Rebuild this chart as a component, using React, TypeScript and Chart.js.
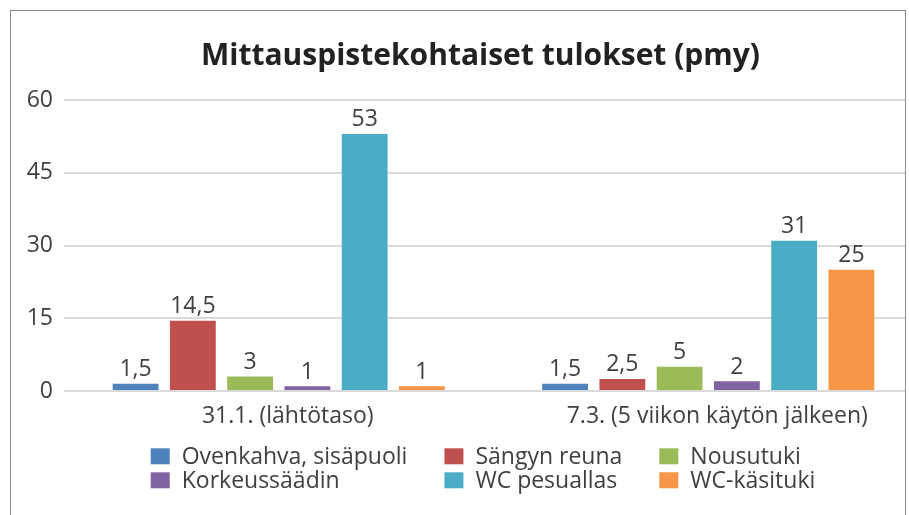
import React, { useEffect, useRef } from "react";
import { Chart, registerables } from "chart.js";

Chart.register(...registerables);

const chartTitle = "Mittauspistekohtaiset tulokset (pmy)";
const categories = ["31.1. (lähtötaso)", "7.3. (5 viikon käytön jälkeen)"];
const seriesNames = [
  "Ovenkahva, sisäpuoli",
  "Sängyn reuna",
  "Nousutuki",
  "Korkeussäädin",
  "WC pesuallas",
  "WC-käsituki",
];
const ovenkahva = [1.5, 1.5];
const sangynReuna = [14.5, 2.5];
const nousutuki = [3, 5];
const korkeussaadin = [1, 2];
const wcPesuallas = [53, 31];
const wcKasituki = [1, 25];
const seriesValues = [ovenkahva, sangynReuna, nousutuki, korkeussaadin, wcPesuallas, wcKasituki];
const yMin = 0;
const yMax = 60;
const yStep = 15;
const colors = ["#4f81bd", "#c0504d", "#9bbb59", "#8064a2", "#4bacc6", "#f79646"];

const FONT = "'Open Sans', 'Noto Sans', sans-serif";
const TEXT = "#404040";
const FS = 23;

const CW = 930;
const CH = 505;

const titlePlugin = {
  id: "customTitle",
  afterDraw(chart: any) {
    const ctx = chart.ctx;
    ctx.save();
    ctx.font = `bold 30px ${FONT}`;
    ctx.fillStyle = "#222222";
    ctx.textAlign = "center";
    ctx.textBaseline = "alphabetic";
    ctx.fillText(chartTitle, 469.5, 53.5);
    ctx.restore();
  },
};

const labelPlugin = {
  id: "valueLabels",
  afterDatasetsDraw(chart: any) {
    const ctx = chart.ctx;
    ctx.save();
    ctx.font = `${FS}px ${FONT}`;
    ctx.fillStyle = TEXT;
    ctx.textAlign = "center";
    ctx.textBaseline = "alphabetic";
    chart.data.datasets.forEach((ds: any, i: number) => {
      const meta = chart.getDatasetMeta(i);
      meta.data.forEach((bar: any, j: number) => {
        const v = ds.data[j];
        const txt = String(v).replace(".", ",");
        ctx.fillText(txt, bar.x, bar.y - 7.5);
      });
    });
    ctx.restore();
  },
};

const legendPlugin = {
  id: "gridLegend",
  afterDraw(chart: any) {
    const ctx = chart.ctx;
    const ds = chart.data.datasets;
    const cols = 3;
    const boxW = 19;
    const boxH = 16;
    const boxGap = 12;
    const colGap = 37;
    const rowH = 24;
    const centerX = 472;
    const firstBaseline = 453.3;
    ctx.save();
    ctx.font = `${FS}px ${FONT}`;
    const widths: number[] = [];
    for (let c = 0; c < cols; c++) {
      let m = 0;
      for (let i = c; i < ds.length; i += cols) {
        m = Math.max(m, ctx.measureText(ds[i].label).width);
      }
      widths.push(boxW + boxGap + m);
    }
    const total = widths.reduce((a, b) => a + b, 0) + colGap * (cols - 1);
    let x0 = centerX - total / 2;
    const colX: number[] = [];
    for (let c = 0; c < cols; c++) {
      colX.push(x0);
      x0 += widths[c] + colGap;
    }
    ds.forEach((d: any, i: number) => {
      const c = i % cols;
      const r = Math.floor(i / cols);
      const base = firstBaseline + r * rowH;
      ctx.fillStyle = d.backgroundColor;
      ctx.fillRect(colX[c], base - boxH, boxW, boxH);
      ctx.fillStyle = TEXT;
      ctx.textAlign = "left";
      ctx.textBaseline = "alphabetic";
      ctx.fillText(d.label, colX[c] + boxW + boxGap, base);
    });
    ctx.restore();
  },
};

export default function App() {
  const ref = useRef<HTMLCanvasElement | null>(null);

  useEffect(() => {
    if (!ref.current) return;
    const chart = new Chart(ref.current, {
      type: "bar",
      data: {
        labels: categories,
        datasets: seriesNames.map((name, i) => ({
          label: name,
          data: seriesValues[i],
          backgroundColor: colors[i],
          borderWidth: 0,
          categoryPercentage: 0.8,
          barPercentage: 0.8,
        })),
      },
      options: {
        animation: false,
        responsive: false,
        layout: { padding: { top: 89, right: 18, bottom: 0, left: 0 } },
        plugins: {
          legend: { display: false },
          title: { display: false },
          tooltip: { enabled: false },
        },
        scales: {
          x: {
            grid: { display: false },
            border: { display: false },
            ticks: {
              color: TEXT,
              font: { family: FONT, size: FS },
              padding: 4,
              labelOffset: 9,
            },
            afterFit(scale: any) {
              scale.height = 125;
            },
          },
          y: {
            min: yMin,
            max: yMax,
            ticks: {
              stepSize: yStep,
              color: TEXT,
              font: { family: FONT, size: FS },
              padding: 11,
            },
            grid: { color: "#d9d9d9", lineWidth: 2, drawTicks: false },
            border: { display: false },
            afterFit(scale: any) {
              scale.width = 53;
            },
          },
        },
      },
      plugins: [titlePlugin, labelPlugin, legendPlugin],
    });
    return () => chart.destroy();
  }, []);

  return (
    <div
      style={{
        position: "absolute",
        left: 10,
        top: 10,
        width: 896,
        height: 520,
        border: "1px solid #8a8a8a",
        boxSizing: "border-box",
        overflow: "hidden",
        background: "#ffffff",
      }}
    >
      <canvas
        ref={ref}
        width={CW}
        height={CH}
        style={{ position: "absolute", left: 0, top: 0, width: CW, height: CH }}
      />
    </div>
  );
}
